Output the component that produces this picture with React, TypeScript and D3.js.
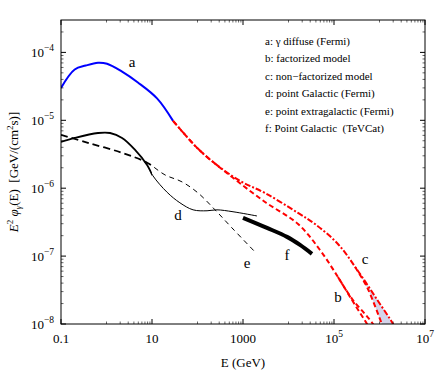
import React from "react";
import * as d3 from "d3";

// canvas
const W = 436;
const H = 371;
const X0 = 61, X1 = 425, Y0 = 324, Y1 = 20;

// a: gamma diffuse (Fermi), measured part
const diffuseE = [0.1, 0.2, 0.35, 0.65, 1.03, 2.2, 4.9, 12.9, 29];
const diffuseV = [3.0e-5, 5.6e-5, 6.4e-5, 7.05e-5, 6.8e-5, 5.2e-5, 3.6e-5, 2.1e-5, 9.8e-6];

// b: factorized model (two nearly overlapping curves)
const factE = [29, 60, 103, 243, 573, 3046, 16200, 49200, 122000, 249000, 412000, 531000, 650000];
const factV = [9.8e-6, 5.6e-6, 3.8e-6, 2.3e-6, 1.46e-6, 6.27e-7, 2.97e-7, 1.23e-7, 4.92e-8, 2.25e-8, 1.31e-8, 1e-8, 7.5e-9];
const factE2 = [122000, 249000, 480000, 720000, 900000];
const factV2 = [4.92e-8, 2.35e-8, 1.4e-8, 1e-8, 7.5e-9];

// c: non-factorized model, upper and lower edge of the band
const nonfE = [29, 60, 103, 243, 859, 3046, 16200, 38200, 122000, 336000, 927000, 1.98e6, 2.4e6];
const nonfV = [9.8e-6, 5.6e-6, 3.8e-6, 2.3e-6, 1.28e-6, 8.49e-7, 4.32e-7, 2.97e-7, 1.51e-7, 6.04e-8, 2.18e-8, 1e-8, 7.5e-9];
const nonfLowE = [290000, 531000, 1.13e6, 1.35e6];
const nonfLowV = [6.9e-8, 3.5e-8, 1e-8, 7.5e-9];

// d: point Galactic (Fermi)
const galE = [0.1, 0.2, 0.65, 1.2, 2.2, 4.2, 7.8, 10.5, 21.5, 41, 80, 162, 268, 603, 2030];
const galV = [4.8e-6, 5.5e-6, 6.5e-6, 6.5e-6, 5.5e-6, 3.7e-6, 2.2e-6, 1.52e-6, 8.7e-7, 6.1e-7, 4.8e-7, 4.65e-7, 4.8e-7, 4.5e-7, 3.9e-7];

// e: point extragalactic (Fermi)
const exgalE = [0.1, 0.39, 2.2, 7.8, 19.3, 45.6, 103, 243, 573, 1840];
const exgalV = [6.1e-6, 4.66e-6, 3.32e-6, 2.37e-6, 1.57e-6, 1.24e-6, 8.5e-7, 4.8e-7, 2.6e-7, 1.15e-7];

// f: point Galactic (TeVCat)
const tevE = [1000, 3365, 9270, 17900, 32800];
const tevV = [3.66e-7, 2.6e-7, 1.92e-7, 1.46e-7, 1.08e-7];

// ticks
const xMajor = [0.1, 10, 1000, 1e5, 1e7];
const xTickLabels = ["0.1", "10", "1000", "10^5", "10^7"];
const yMajor = [1e-8, 1e-7, 1e-6, 1e-5, 1e-4];
const yTickLabels = ["10^\u22128", "10^\u22127", "10^\u22126", "10^\u22125", "10^\u22124"];

// curve labels: [text, E, value]
const curveLabels: [string, number, number][] = [
  ["a", 3.63, 6.15e-5],
  ["d", 37.3, 3.41e-7],
  ["e", 1225, 6.7e-8],
  ["f", 9270, 8.8e-8],
  ["c", 480000, 7.7e-8],
  ["b", 122000, 2.11e-8],
];

const legend = [
  "a: \u03b3 diffuse (Fermi)",
  "b: factorized model",
  "c: non\u2212factorized model",
  "d: point Galactic (Fermi)",
  "e: point extragalactic (Fermi)",
  "f: Point Galactic\u00a0 (TeVCat)",
];

const zip = (xs: number[], ys: number[]) => xs.map((e, i) => [e, ys[i]] as [number, number]);

const x = d3.scaleLog().domain([0.1, 1e7]).range([X0, X1]);
const y = d3.scaleLog().domain([1e-8, 3e-4]).range([Y0, Y1]);

const line = d3
  .line<[number, number]>()
  .x((d) => x(d[0]))
  .y((d) => y(d[1]))
  .curve(d3.curveCatmullRom.alpha(0.5));

const serif = { fontFamily: '"Liberation Serif", serif' };

function TickText({ label, tx, ty, anchor }: { label: string; tx: number; ty: number; anchor: string }) {
  const [base, sup] = label.split("^");
  return (
    <text x={tx} y={ty} textAnchor={anchor} fontSize={13} style={serif}>
      {base}
      {sup && (
        <tspan dy={-6} fontSize={9.5}>
          {sup}
        </tspan>
      )}
    </text>
  );
}

export default function App() {
  const xMinor: number[] = [];
  [1, 100, 1e4, 1e6].forEach((k) => d3.range(1, 10).forEach((j) => xMinor.push(j * k)));
  const yMinor: number[] = [];
  d3.range(-8, -3).forEach((n) =>
    d3.range(2, 10).forEach((j) => {
      const v = j * Math.pow(10, n);
      if (v < 3e-4) yMinor.push(v);
    })
  );

  // shaded band between the two c curves
  const upper = zip(nonfE, nonfV).filter((d) => d[0] > nonfLowE[0]);
  const bandPts = [[nonfLowE[0], nonfLowV[0]] as [number, number], ...upper];
  const lowPts = zip(nonfLowE, nonfLowV).slice().reverse();
  const band = line(bandPts)! + "L" + line(lowPts)!.slice(1) + "Z";

  const splitX = x(10);

  return (
    <svg width={W} height={H} style={{ position: "absolute", left: 0, top: 0, background: "#fff" }}>
      <defs>
        <clipPath id="plot">
          <rect x={X0} y={Y1} width={X1 - X0} height={Y0 - Y1} />
        </clipPath>
        <clipPath id="lowE">
          <rect x={X0} y={Y1} width={splitX - X0} height={Y0 - Y1} />
        </clipPath>
        <clipPath id="highE">
          <rect x={splitX} y={Y1} width={X1 - splitX} height={Y0 - Y1} />
        </clipPath>
      </defs>

      <g clipPath="url(#plot)">
        <path d={band} fill="#d4d4ea" stroke="none" />
        <path d={line(zip(diffuseE, diffuseV))!} fill="none" stroke="#0000ff" strokeWidth={2} />
        <path d={line(zip(factE, factV))!} fill="none" stroke="#ff0000" strokeWidth={2} strokeDasharray="5,3" />
        <path d={line(zip(factE2, factV2))!} fill="none" stroke="#ff0000" strokeWidth={2} strokeDasharray="5,3" />
        <path d={line(zip(nonfE, nonfV))!} fill="none" stroke="#ff0000" strokeWidth={2} strokeDasharray="6,2,2,2" />
        <path d={line(zip(nonfLowE, nonfLowV))!} fill="none" stroke="#ff0000" strokeWidth={2} strokeDasharray="5,3" />

        <g clipPath="url(#lowE)">
          <path d={line(zip(galE, galV))!} fill="none" stroke="#000" strokeWidth={1.8} />
          <path d={line(zip(exgalE, exgalV))!} fill="none" stroke="#000" strokeWidth={1.8} strokeDasharray="7,4" />
        </g>
        <g clipPath="url(#highE)">
          <path d={line(zip(galE, galV))!} fill="none" stroke="#000" strokeWidth={1} />
          <path d={line(zip(exgalE, exgalV))!} fill="none" stroke="#000" strokeWidth={1} strokeDasharray="5,4" />
        </g>
        <path d={line(zip(tevE, tevV))!} fill="none" stroke="#000" strokeWidth={4} />
      </g>

      {/* frame */}
      <rect x={X0} y={Y1} width={X1 - X0} height={Y0 - Y1} fill="none" stroke="#000" strokeWidth={1} />

      {/* ticks on all four sides */}
      {xMajor.map((v) => (
        <g key={"xM" + v}>
          <line x1={x(v)} x2={x(v)} y1={Y0} y2={Y0 - 5} stroke="#000" />
          <line x1={x(v)} x2={x(v)} y1={Y1} y2={Y1 + 5} stroke="#000" />
        </g>
      ))}
      {xMinor.map((v) => (
        <g key={"xm" + v}>
          <line x1={x(v)} x2={x(v)} y1={Y0} y2={Y0 - 2.5} stroke="#000" strokeWidth={0.6} />
          <line x1={x(v)} x2={x(v)} y1={Y1} y2={Y1 + 2.5} stroke="#000" strokeWidth={0.6} />
        </g>
      ))}
      {yMajor.map((v) => (
        <g key={"yM" + v}>
          <line x1={X0} x2={X0 + 5} y1={y(v)} y2={y(v)} stroke="#000" />
          <line x1={X1} x2={X1 - 5} y1={y(v)} y2={y(v)} stroke="#000" />
        </g>
      ))}
      {yMinor.map((v) => (
        <g key={"ym" + v}>
          <line x1={X0} x2={X0 + 2.5} y1={y(v)} y2={y(v)} stroke="#000" strokeWidth={0.6} />
          <line x1={X1} x2={X1 - 2.5} y1={y(v)} y2={y(v)} stroke="#000" strokeWidth={0.6} />
        </g>
      ))}

      {/* tick labels */}
      {xMajor.map((v, i) => (
        <TickText key={"xl" + v} label={xTickLabels[i]} tx={x(v)} ty={343} anchor="middle" />
      ))}
      {yMajor.map((v, i) => (
        <TickText key={"yl" + v} label={yTickLabels[i]} tx={54} ty={y(v) + 5} anchor="end" />
      ))}

      {/* axis titles */}
      <text x={(X0 + X1) / 2} y={367} textAnchor="middle" fontSize={13} style={serif}>
        E (GeV)
      </text>
      <text transform={`translate(18,${(Y0 + Y1) / 2}) rotate(-90)`} textAnchor="middle" fontSize={13} style={serif}>
        <tspan fontStyle="italic">E</tspan>
        <tspan dy={-5} fontSize={9}>2</tspan>
        <tspan dy={5}> </tspan>
        <tspan fontStyle="italic">{"\u03c6"}</tspan>
        <tspan dy={3} fontSize={9} fontStyle="italic">{"\u03b3"}</tspan>
        <tspan dy={-3}>(E)</tspan>
        <tspan>{"\u00a0\u00a0[GeV/(cm"}</tspan>
        <tspan dy={-5} fontSize={9}>2</tspan>
        <tspan dy={5}>s)]</tspan>
      </text>

      {/* curve labels */}
      {curveLabels.map(([t, e, v]) => (
        <text key={t} x={x(e)} y={y(v)} textAnchor="middle" fontSize={15} style={serif}>
          {t}
        </text>
      ))}

      {/* legend */}
      {legend.map((t, i) => (
        <text key={t} x={265} y={45 + i * 17.4} fontSize={11} style={serif}>
          {t}
        </text>
      ))}
    </svg>
  );
}
